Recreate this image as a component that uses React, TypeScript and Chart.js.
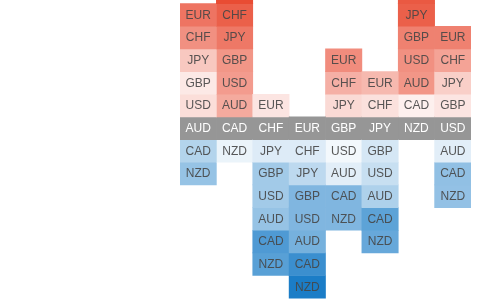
import React, { useEffect, useRef } from "react";
import { Chart, registerables } from "chart.js";

Chart.register(...registerables);

// Column (base) currencies
const bases = ["AUD", "CAD", "CHF", "EUR", "GBP", "JPY", "NZD", "USD"];
// Strength ranking: order of currencies from strongest to weakest
const ranking = ["EUR", "CHF", "JPY", "GBP", "USD", "AUD", "CAD", "NZD"];

// Cell intensity for each base column, listed in ranking order
// (positive = stronger / red, negative = weaker / blue, 0 = base)
const audValues = [0.75, 0.6, 0.3, 0.12, 0.18, 0, -0.31, -0.43];
const cadValues = [0.97, 0.86, 0.73, 0.57, 0.54, 0.46, 0, -0.08];
const chfValues = [0.14, 0, -0.14, -0.38, -0.38, -0.43, -0.72, -0.68];
const eurValues = [0, -0.14, -0.27, -0.52, -0.52, -0.56, -0.8, -0.93];
const gbpValues = [0.62, 0.43, 0.2, 0, -0.05, -0.12, -0.52, -0.52];
const jpyValues = [0.38, 0.16, 0, -0.17, -0.23, -0.33, -0.66, -0.62];
const nzdValues = [0.98, 0.9, 0.86, 0.68, 0.6, 0.57, 0.08, 0];
const usdValues = [0.68, 0.5, 0.26, 0.14, 0, -0.12, -0.45, -0.44];

const columnValues = [audValues, cadValues, chfValues, eurValues, gbpValues, jpyValues, nzdValues, usdValues];

const RED = [232, 70, 45];
const BLUE = [10, 115, 195];
const GRAY = "rgb(150,150,150)";

function cellColor(v: number, isBase: boolean): string {
  if (isBase) return GRAY;
  const t = Math.min(1, Math.abs(v));
  const c = v >= 0 ? RED : BLUE;
  const r = Math.round(255 + (c[0] - 255) * t);
  const g = Math.round(255 + (c[1] - 255) * t);
  const b = Math.round(255 + (c[2] - 255) * t);
  return `rgb(${r},${g},${b})`;
}

const labelPlugin = {
  id: "cellLabels",
  afterDatasetsDraw(chart: any) {
    const ctx = chart.ctx;
    const area = chart.chartArea;
    ctx.save();
    ctx.font = '12px "Liberation Sans", Arial, sans-serif';
    ctx.textAlign = "center";
    ctx.textBaseline = "middle";
    chart.data.datasets.forEach((ds: any, di: number) => {
      const meta = chart.getDatasetMeta(di);
      meta.data.forEach((el: any, i: number) => {
        const p = el.getProps(["x", "y", "base"], true);
        const cy = (p.y + p.base) / 2;
        if (cy < area.top - 15 || cy > area.bottom + 15) return;
        const isBase = bases[i] === ranking[di];
        ctx.fillStyle = isBase ? "#ffffff" : "rgba(70,70,70,0.9)";
        ctx.fillText(ranking[di], p.x, cy + 0.5);
      });
    });
    ctx.restore();
  },
};

export default function App() {
  const canvasRef = useRef<HTMLCanvasElement | null>(null);

  useEffect(() => {
    if (!canvasRef.current) return;
    const datasets = ranking.map((cur, r) => ({
      label: cur,
      data: bases.map((b) => {
        const offset = ranking.indexOf(b) - r;
        return [offset - 0.5, offset + 0.5];
      }),
      backgroundColor: bases.map((b, ci) => cellColor(columnValues[ci][r], b === cur)),
      borderWidth: 0,
      grouped: false,
      barPercentage: 1,
      categoryPercentage: 1,
    }));

    const chart = new Chart(canvasRef.current, {
      type: "bar",
      data: { labels: bases, datasets: datasets as any },
      options: {
        animation: false,
        responsive: true,
        maintainAspectRatio: false,
        layout: { padding: { left: 180, right: 9, top: 0, bottom: 0 } },
        plugins: {
          legend: { display: false },
          tooltip: { enabled: false },
        },
        scales: {
          x: { display: false },
          y: { display: false, min: -7.58, max: 5.66 },
        },
      },
      plugins: [labelPlugin],
    });
    return () => chart.destroy();
  }, []);

  return (
    <div style={{ position: "absolute", left: 0, top: 0, width: 480, height: 300, background: "#fff" }}>
      <canvas ref={canvasRef} />
    </div>
  );
}
